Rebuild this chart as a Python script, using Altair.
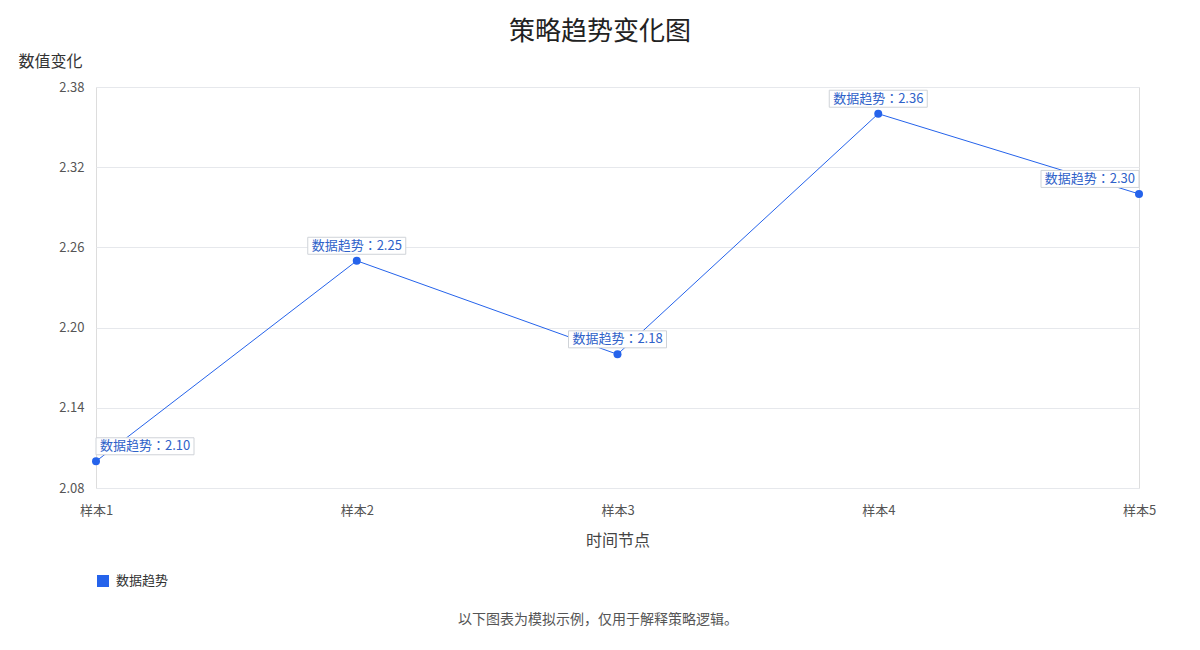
import altair as alt
import pandas as pd

categories = ["样本1", "样本2", "样本3", "样本4", "样本5"]
values = [2.10, 2.25, 2.18, 2.36, 2.30]
series_name = "数据趋势"
y_ticks = [2.08, 2.14, 2.20, 2.26, 2.32, 2.38]
title_text = "策略趋势变化图"
y_title = "数值变化"
x_title = "时间节点"
note_text = "以下图表为模拟示例，仅用于解释策略逻辑。"

FONT = "Noto Sans CJK JP"
BLUE = "#2563eb"

n = len(categories)
df = pd.DataFrame({
    "cat": categories,
    "value": values,
    "series": [series_name] * n,
    "label": [f"{series_name}：{v:.2f}" for v in values],
    "pos": ["first"] + ["mid"] * (n - 2) + ["last"],
})

x_enc = alt.X(
    "cat:N", sort=categories,
    scale=alt.Scale(type="point", padding=0),
    axis=alt.Axis(title=x_title, labelAngle=0, ticks=False, tickSize=0, domain=False,
                  labelPadding=16, labelFontSize=13, labelColor="#555", labelFont=FONT,
                  titleFont=FONT, titleFontSize=16, titleFontWeight="normal", titleColor="#444",
                  titleY=52, titleBaseline="middle", grid=False),
)
y_enc = alt.Y(
    "value:Q",
    scale=alt.Scale(domain=[y_ticks[0], y_ticks[-1]], nice=False, zero=False),
    axis=alt.Axis(values=y_ticks, format=".2f", title=y_title, ticks=False, tickSize=0, domain=False,
                  labelPadding=12, labelFontSize=13, labelColor="#555", labelFont=FONT,
                  gridColor="#e6e8ec", gridWidth=1,
                  titleAngle=0, titleX=-46, titleY=-26, titleAlign="center", titleBaseline="middle",
                  titleFont=FONT, titleFontSize=16, titleFontWeight="normal", titleColor="#333"),
)

base = alt.Chart(df).encode(x=x_enc, y=y_enc)

line = base.mark_line(color=BLUE, strokeWidth=1)
points = base.mark_circle(size=64, opacity=1).encode(
    color=alt.Color("series:N", scale=alt.Scale(range=[BLUE]),
                    legend=alt.Legend(title=None, orient="none", legendX=0, legendY=487,
                                      symbolType="square", symbolSize=144, symbolOpacity=1,
                                      labelFont=FONT, labelFontSize=13, labelColor="#333",
                                      labelOffset=6, padding=0))
)

BOX_W = 98
BOX_H = 17
box_style = dict(width=BOX_W, height=BOX_H, fill="white", stroke="#cfd3d8", strokeWidth=1, yOffset=-15)
txt_style = dict(font=FONT, fontSize=13, color="#2f62c9", baseline="middle", dy=-15)

layers = [line, points]
for pos, xoff, align, dx in [("first", BOX_W / 2, "left", 4), ("mid", 0, "center", 0), ("last", -BOX_W / 2, "right", -4)]:
    sub = base.transform_filter(alt.datum.pos == pos)
    layers.append(sub.mark_rect(xOffset=xoff, **box_style))
    layers.append(sub.mark_text(align=align, dx=dx, **txt_style).encode(text="label:N"))

title_layer = alt.Chart(pd.DataFrame({"t": [title_text]})).mark_text(
    font=FONT, fontSize=26, color="#222", align="center", baseline="middle"
).encode(text="t:N", x=alt.value(504), y=alt.value(-55))

note_layer = alt.Chart(pd.DataFrame({"t": [note_text]})).mark_text(
    font=FONT, fontSize=14, color="#555", align="center", baseline="middle"
).encode(text="t:N", x=alt.value(502), y=alt.value(533))

chart = alt.layer(*layers, title_layer, note_layer).properties(
    width=1043, height=401,
    autosize=alt.AutoSizeParams(type="none"),
    padding={"left": 88, "top": 79, "right": 53, "bottom": 150},
).configure_view(
    fill="#f9fbfe", stroke="#dcdfe3", strokeWidth=1
).configure(font=FONT)

chart.save("out.html", embed_options={"renderer": "svg", "actions": False})
